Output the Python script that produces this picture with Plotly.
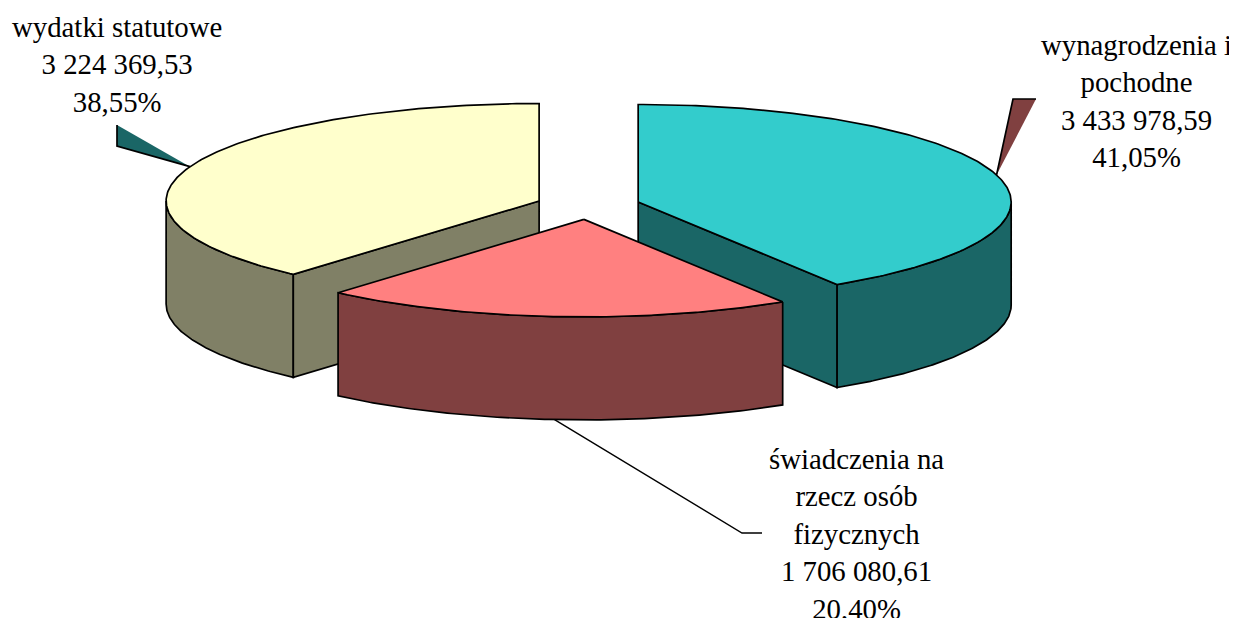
import numpy as np
import plotly.graph_objects as go

# ---------------- data ----------------
categories = ["wynagrodzenia i pochodne", "świadczenia na rzecz osób fizycznych", "wydatki statutowe"]
label_lines = [["wynagrodzenia i", "pochodne"], ["świadczenia na", "rzecz osób", "fizycznych"], ["wydatki statutowe"]]
values = [3433978.59, 1706080.61, 3224369.53]

# ---------------- style / layout ----------------
top_colors = ["#33CCCC", "#FF8080", "#FFFFCC"]
side_colors = ["#1A6666", "#804040", "#808066"]
leader_colors = ["#804040", None, "#1A6666"]

W, H = 1237, 618
OFF = 8                      # page body margin
CX, CY = 588, 205.8          # pie centre (pixels)
A, B = 373, 97.5             # ellipse radii
DEPTH = 103                  # thickness
EXPLODE = 0.14
FONT = dict(family="Liberation Serif", size=28.8, color="black")

# label anchor (x centre, y middle) per slice
label_pos = [(1136, 101), (856, 534), (117, 64)]
# leader base points (outlined corner first) for wedge leaders; polyline end for pink
leader_base = [[(1036, 99), (1013, 99)], None, [(117, 125), (117, 146)]]
pink_leader_end = [(742, 533), (762, 533)]


def fmt_num(v):
    s = f"{v:,.2f}"
    return s.replace(",", " ").replace(".", ",")


def pt(cx, cy, th, r=1.0, dz=0.0):
    t = np.radians(th)
    return cx + r * A * np.sin(t), cy - r * B * np.cos(t) + dz


total = sum(values)
fracs = [v / total for v in values]
starts = np.concatenate([[0], np.cumsum(fracs)[:-1]]) * 360
ends = np.cumsum(fracs) * 360

fig = go.Figure()
LW = 1.7


def poly(xs, ys, fill, line=True):
    fig.add_trace(go.Scatter(
        x=list(xs), y=list(ys), mode="lines", fill="toself", fillcolor=fill,
        line=dict(color="black" if line else fill, width=LW if line else 0),
        hoverinfo="skip", showlegend=False))


slices = []
for i in range(len(values)):
    s, e = starts[i], ends[i]
    mid = (s + e) / 2
    cx, cy = pt(CX, CY, mid, EXPLODE)
    slices.append((i, s, e, mid, cx, cy))

# draw back slices first
order = sorted(slices, key=lambda t: -np.cos(np.radians(t[3])))
for i, s, e, mid, cx, cy in order:
    # curved outer wall (front-facing part)
    ws, we = max(s, 90), min(e, 270)
    if we > ws:
        th = np.linspace(ws, we, 120)
        tx, ty = pt(cx, cy, th)
        bx, by = pt(cx, cy, th[::-1], dz=DEPTH)
        poly(np.concatenate([tx, bx, tx[:1]]), np.concatenate([ty, by, ty[:1]]), side_colors[i])
    # radial faces (visible when their normal points toward the viewer)
    for ang, sign in ((s, -1), (e, 1)):
        t = np.radians(ang)
        facing = sign * np.sin(t)
        if facing < 1e-3:
            continue
        rx, ry = pt(cx, cy, ang)
        xs = [cx, rx, rx, cx, cx]
        ys = [cy, ry, ry + DEPTH, cy + DEPTH, cy]
        poly(xs, ys, side_colors[i])
    # top face
    th = np.linspace(s, e, 200)
    tx, ty = pt(cx, cy, th)
    poly(np.concatenate([[cx], tx, [cx]]), np.concatenate([[cy], ty, [cy]]), top_colors[i])

# leaders and labels
for i, s, e, mid, cx, cy in slices:
    if leader_base[i] is not None:
        tipx, tipy = pt(cx, cy, mid)
        (ax_, ay_), (bx_, by_) = leader_base[i]
        poly([ax_, bx_, tipx, ax_], [ay_, by_, tipy, ay_], leader_colors[i], line=False)
        fig.add_trace(go.Scatter(x=[ax_, bx_, tipx], y=[ay_, by_, tipy], mode="lines",
                                 line=dict(color="black", width=LW),
                                 hoverinfo="skip", showlegend=False))
    else:
        sx, sy = pt(cx, cy, mid, dz=DEPTH)
        fig.add_trace(go.Scatter(x=[sx] + [p[0] for p in pink_leader_end],
                                 y=[sy] + [p[1] for p in pink_leader_end], mode="lines",
                                 line=dict(color="black", width=1.4),
                                 hoverinfo="skip", showlegend=False))
    pct = f"{fracs[i]*100:.2f}".replace(".", ",") + "%"
    text = "<br>".join(label_lines[i] + [fmt_num(values[i]), pct])
    lx, ly = label_pos[i]
    fig.add_annotation(x=lx, y=ly, xref="x", yref="y", text=text, showarrow=False,
                       xanchor="center", yanchor="middle", align="center", font=FONT)

fig.update_layout(
    width=W - OFF, height=H - OFF, margin=dict(l=0, r=0, t=0, b=0),
    paper_bgcolor="white", plot_bgcolor="white", showlegend=False,
    xaxis=dict(range=[OFF, W], visible=False, fixedrange=True),
    yaxis=dict(range=[H, OFF], visible=False, fixedrange=True),
)

fig.write_html("out.html")
